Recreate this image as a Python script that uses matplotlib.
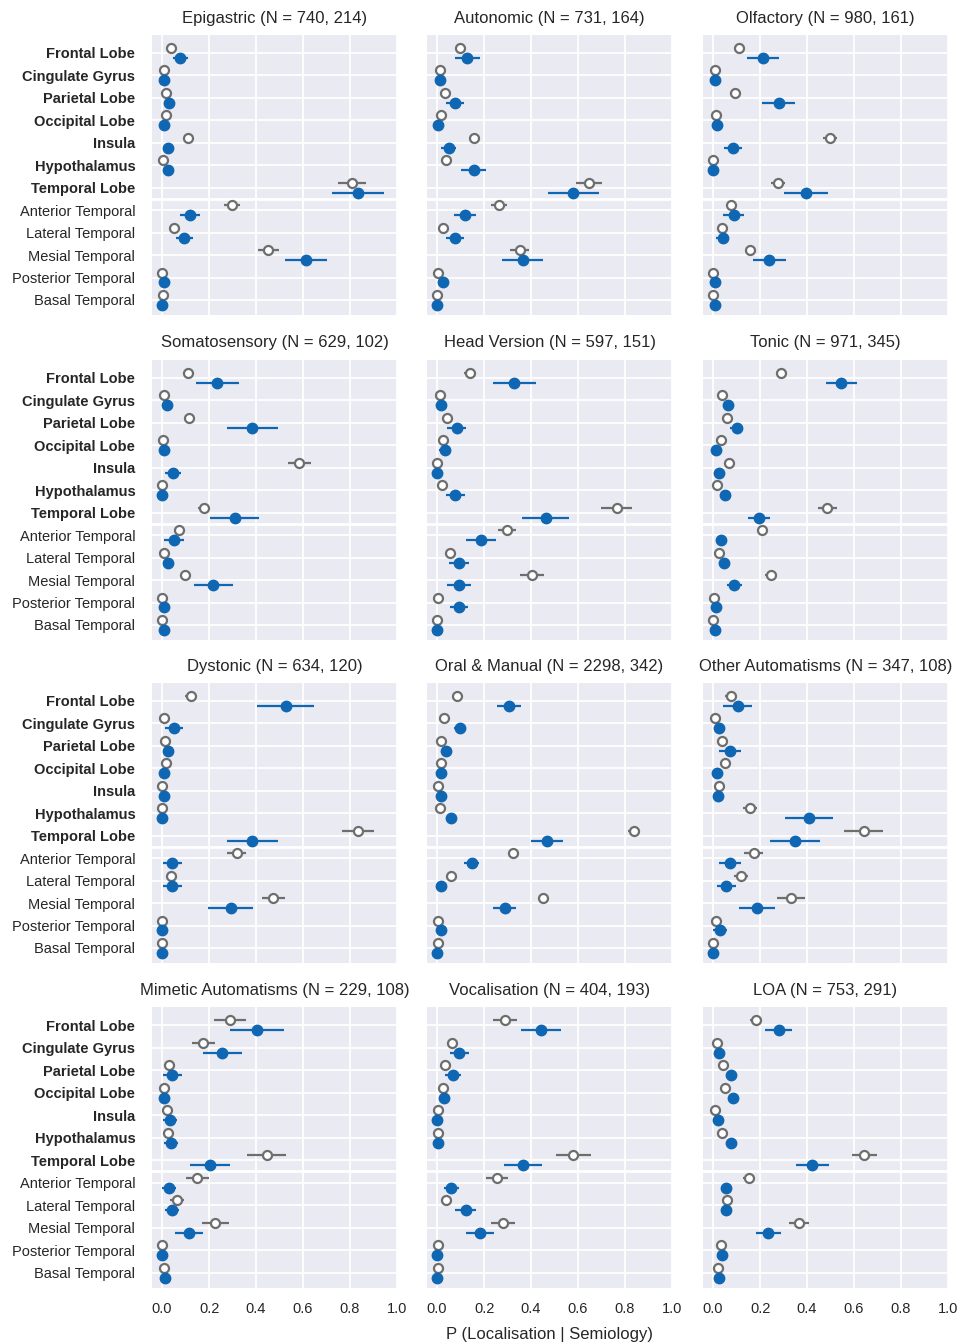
import numpy as np
import matplotlib
matplotlib.use('Agg')
import matplotlib.pyplot as plt

plt.rcParams['font.family'] = ['Liberation Sans', 'DejaVu Sans']

regions = ['Frontal Lobe', 'Cingulate Gyrus', 'Parietal Lobe', 'Occipital Lobe',
           'Insula', 'Hypothalamus', 'Temporal Lobe', 'Anterior Temporal',
           'Lateral Temporal', 'Mesial Temporal', 'Posterior Temporal', 'Basal Temporal']
n_bold = 7  # lobes are bold, temporal subregions regular

semiologies = ['Epigastric', 'Autonomic', 'Olfactory', 'Somatosensory', 'Head Version',
               'Tonic', 'Dystonic', 'Oral & Manual', 'Other Automatisms',
               'Mimetic Automatisms', 'Vocalisation', 'LOA']
n_first = [740, 731, 980, 629, 597, 971, 634, 2298, 347, 229, 404, 753]
n_second = [214, 164, 161, 102, 151, 345, 120, 342, 108, 108, 193, 291]

# open grey markers (upper) - one row per semiology
grey_mean = [
    [0.038, 0.006, 0.016, 0.017, 0.109, 0.003, 0.807, 0.296, 0.051, 0.452, 0.001, 0.003],
    [0.098, 0.011, 0.033, 0.018, 0.159, 0.038, 0.647, 0.265, 0.026, 0.352, 0.003, 0.0],
    [0.111, 0.009, 0.093, 0.012, 0.499, 0.0, 0.275, 0.078, 0.037, 0.157, 0.0, 0.0],
    [0.112, 0.006, 0.115, 0.003, 0.583, 0.0, 0.179, 0.072, 0.006, 0.098, 0.001, 0.0],
    [0.138, 0.012, 0.041, 0.026, 0.0, 0.02, 0.765, 0.298, 0.053, 0.405, 0.005, 0.0],
    [0.291, 0.037, 0.058, 0.035, 0.067, 0.017, 0.486, 0.207, 0.024, 0.245, 0.002, 0.0],
    [0.122, 0.009, 0.011, 0.017, 0.001, 0.0, 0.833, 0.318, 0.037, 0.474, 0.001, 0.001],
    [0.086, 0.03, 0.015, 0.017, 0.005, 0.011, 0.838, 0.323, 0.058, 0.45, 0.005, 0.005],
    [0.075, 0.006, 0.04, 0.049, 0.026, 0.158, 0.641, 0.172, 0.12, 0.333, 0.011, 0.0],
    [0.289, 0.176, 0.031, 0.009, 0.02, 0.023, 0.445, 0.15, 0.064, 0.226, 0.0, 0.009],
    [0.291, 0.065, 0.035, 0.023, 0.003, 0.003, 0.58, 0.255, 0.038, 0.28, 0.003, 0.003],
    [0.184, 0.017, 0.043, 0.052, 0.006, 0.04, 0.644, 0.154, 0.059, 0.367, 0.032, 0.021],
]
grey_err = [
    [0.01, 0, 0, 0, 0.01, 0, 0.06, 0.034, 0.01, 0.044, 0, 0],
    [0.019, 0, 0.005, 0, 0.023, 0.005, 0.055, 0.034, 0.005, 0.04, 0, 0],
    [0.008, 0, 0.008, 0, 0.03, 0, 0.03, 0.01, 0.005, 0.019, 0, 0],
    [0.01, 0, 0.01, 0, 0.049, 0, 0.026, 0.012, 0, 0.012, 0, 0],
    [0.024, 0, 0.008, 0.005, 0, 0.005, 0.066, 0.04, 0.008, 0.05, 0, 0],
    [0.025, 0.006, 0.006, 0.006, 0.008, 0.005, 0.04, 0.018, 0.005, 0.025, 0, 0],
    [0.026, 0, 0, 0, 0, 0, 0.068, 0.04, 0.008, 0.05, 0, 0],
    [0.005, 0.005, 0.005, 0.005, 0, 0, 0.027, 0.008, 0.006, 0.01, 0, 0],
    [0.025, 0, 0.008, 0.008, 0.006, 0.029, 0.082, 0.041, 0.029, 0.059, 0.005, 0],
    [0.067, 0.049, 0.01, 0, 0.006, 0.006, 0.083, 0.05, 0.03, 0.058, 0, 0],
    [0.051, 0.012, 0.008, 0.006, 0, 0, 0.074, 0.047, 0.005, 0.05, 0, 0],
    [0.025, 0.005, 0.006, 0.006, 0, 0.006, 0.054, 0.025, 0.006, 0.042, 0.005, 0.005],
]

# filled blue markers (lower)
blue_mean = [
    [0.077, 0.006, 0.031, 0.006, 0.027, 0.023, 0.835, 0.119, 0.095, 0.613, 0.006, 0.0],
    [0.129, 0.011, 0.076, 0.005, 0.05, 0.155, 0.58, 0.118, 0.076, 0.365, 0.023, 0.0],
    [0.212, 0.006, 0.279, 0.017, 0.085, 0.0, 0.397, 0.088, 0.041, 0.24, 0.009, 0.009],
    [0.235, 0.02, 0.384, 0.009, 0.045, 0.0, 0.309, 0.05, 0.023, 0.217, 0.01, 0.01],
    [0.329, 0.015, 0.083, 0.033, 0.0, 0.077, 0.462, 0.186, 0.094, 0.094, 0.092, 0.0],
    [0.545, 0.062, 0.1, 0.012, 0.024, 0.052, 0.195, 0.032, 0.047, 0.09, 0.012, 0.006],
    [0.526, 0.051, 0.024, 0.006, 0.009, 0.0, 0.384, 0.044, 0.044, 0.292, 0.0, 0.0],
    [0.306, 0.098, 0.038, 0.017, 0.017, 0.061, 0.467, 0.148, 0.017, 0.288, 0.017, 0.0],
    [0.105, 0.024, 0.073, 0.017, 0.021, 0.408, 0.349, 0.073, 0.056, 0.187, 0.029, 0.0],
    [0.403, 0.257, 0.044, 0.01, 0.034, 0.038, 0.204, 0.03, 0.044, 0.115, 0.0, 0.013],
    [0.442, 0.095, 0.068, 0.03, 0.0, 0.005, 0.365, 0.061, 0.121, 0.183, 0.0, 0.0],
    [0.28, 0.027, 0.078, 0.085, 0.021, 0.078, 0.423, 0.055, 0.055, 0.234, 0.04, 0.027],
]
blue_err = [
    [0.032, 0.005, 0.01, 0.005, 0.01, 0.01, 0.11, 0.042, 0.036, 0.088, 0.005, 0],
    [0.052, 0.005, 0.04, 0.005, 0.032, 0.055, 0.11, 0.048, 0.04, 0.087, 0.008, 0],
    [0.067, 0.005, 0.07, 0.006, 0.038, 0, 0.094, 0.045, 0.027, 0.071, 0.005, 0.005],
    [0.092, 0.01, 0.108, 0.005, 0.034, 0, 0.103, 0.043, 0.02, 0.083, 0.005, 0.005],
    [0.09, 0.006, 0.042, 0.025, 0, 0.04, 0.1, 0.063, 0.043, 0.051, 0.038, 0],
    [0.066, 0.02, 0.028, 0.006, 0.008, 0.01, 0.046, 0.01, 0.01, 0.031, 0.006, 0.005],
    [0.122, 0.037, 0.018, 0.005, 0.005, 0, 0.108, 0.039, 0.039, 0.096, 0, 0],
    [0.052, 0.027, 0.01, 0.006, 0.006, 0.012, 0.067, 0.032, 0.006, 0.049, 0.006, 0],
    [0.061, 0.01, 0.047, 0.006, 0.008, 0.102, 0.107, 0.047, 0.04, 0.078, 0.03, 0],
    [0.115, 0.083, 0.04, 0.006, 0.03, 0.03, 0.087, 0.03, 0.03, 0.059, 0.005, 0.005],
    [0.086, 0.039, 0.034, 0.012, 0, 0.005, 0.08, 0.033, 0.043, 0.059, 0, 0],
    [0.057, 0.008, 0.02, 0.01, 0.008, 0.02, 0.071, 0.01, 0.01, 0.053, 0.008, 0.008],
]

grey_col = '#6e6e6e'
blue_col = '#0f67b3'
W, H = 959, 1342

# panel boxes in pixels (left, right) and (top, bottom)
cols = [(152, 397), (427, 672), (703, 948)]
rows = [(35, 315), (360, 640), (683, 963), (1007, 1288)]

fig = plt.figure(figsize=(W / 100, H / 100), dpi=100)
y = np.arange(len(regions))
off = 0.22
xt = np.arange(0, 1.01, 0.2)

for i, name in enumerate(semiologies):
    r, c = divmod(i, 3)
    x0, x1 = cols[c]
    y0, y1 = rows[r]
    ax = fig.add_axes([x0 / W, 1 - y1 / H, (x1 - x0) / W, (y1 - y0) / H])
    ax.set_facecolor('#eaeaf2')
    for s in ax.spines.values():
        s.set_visible(False)
    ax.grid(True, color='white', linewidth=1.3, zorder=0)
    ax.set_axisbelow(True)
    ax.axhline(6.5, color='white', linewidth=2, zorder=1)

    ax.errorbar(grey_mean[i], y - off, xerr=grey_err[i], fmt='o', color=grey_col,
                ecolor=grey_col, elinewidth=1.6, ms=6.5, mfc='white', mec=grey_col,
                mew=1.6, capsize=0, zorder=3)
    ax.errorbar(blue_mean[i], y + off, xerr=blue_err[i], fmt='o', color=blue_col,
                ecolor=blue_col, elinewidth=1.6, ms=7.5, mfc=blue_col, mec=blue_col,
                capsize=0, zorder=3)

    ax.set_xlim(-0.043, 1.0)
    ax.set_ylim(11.67, -0.8)
    ax.set_xticks(xt)
    ax.set_yticks(y)
    ax.tick_params(length=0, labelsize=10.5, labelcolor='#262626')
    ax.tick_params(axis='y', pad=12)
    ax.tick_params(axis='x', pad=10)
    ax.set_title(f'{name} (N = {n_first[i]}, {n_second[i]})', fontsize=12,
                 color='#262626', pad=9)

    if c == 0:
        ax.set_yticklabels(regions)
        for k, lab in enumerate(ax.get_yticklabels()):
            if k < n_bold:
                lab.set_fontweight('bold')
    else:
        ax.set_yticklabels([])
    if r == 3:
        ax.set_xticklabels([f'{v:.1f}' for v in xt])
        if c == 1:
            ax.set_xlabel('P (Localisation | Semiology)', fontsize=12,
                          color='#262626', labelpad=8)
    else:
        ax.set_xticklabels([])

plt.savefig('out.png', dpi=100)
